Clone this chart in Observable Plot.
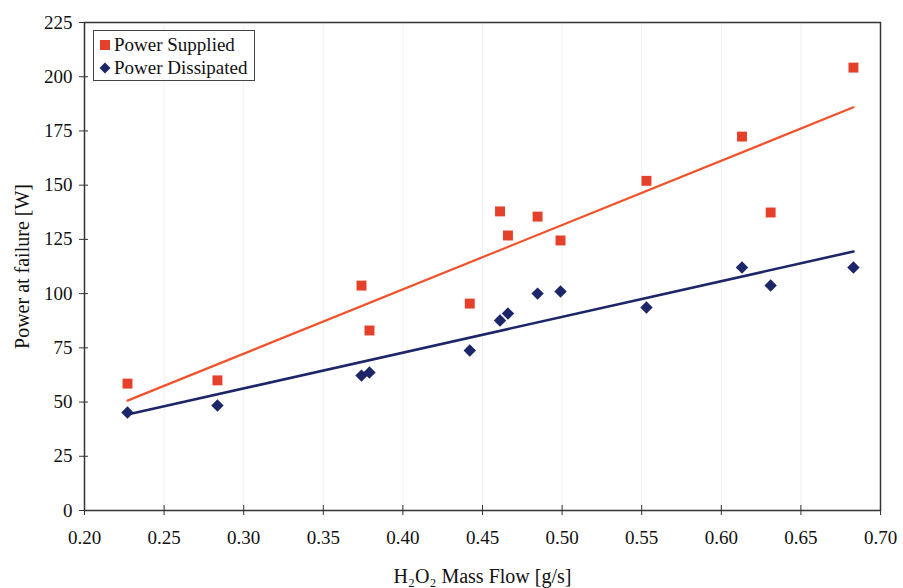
<!DOCTYPE html>
<html>
<head>
<meta charset="utf-8">
<script src="https://cdn.jsdelivr.net/npm/d3@7"></script>
<script src="https://cdn.jsdelivr.net/npm/@observablehq/plot@0.6"></script>
<style>
  html, body { margin: 0; padding: 0; background: #fff; }
  #wrap { position: relative; width: 903px; height: 588px; font-family: "Liberation Serif", serif; }
  #legend { position: absolute; left: 93px; top: 30px; width: 162px; height: 51px; border: 1.2px solid #444;
            background: #fff; font-size: 19px; color: #111; box-sizing: border-box; padding: 2px 0 0 5px; line-height: 23px; }
  #legend .row { display: flex; align-items: center; white-space: nowrap; }
  #legend svg { margin-right: 3px; }
  #chart svg g[aria-label="x-axis label"] text, #chart svg g[aria-label="y-axis label"] text { font-size: 20px; }
</style>
</head>
<body>
<div id="wrap">
  <div id="chart"></div>
  <div id="legend"></div>
</div>
<script>
// H2O2 mass flow [g/s]
const massFlow = [0.227, 0.2835, 0.374, 0.379, 0.442, 0.461, 0.466, 0.4846, 0.499, 0.553, 0.613, 0.631, 0.683];
// Power supplied at failure [W]
const powerSupplied = [58.5, 60, 103.7, 83, 95.4, 137.9, 126.8, 135.5, 124.5, 152, 172.4, 137.4, 204.2];
// Power dissipated at failure [W]
const powerDissipated = [45.2, 48.4, 62.2, 63.6, 73.8, 87.6, 90.8, 100, 101, 93.6, 112, 103.7, 112];

const seriesNames = ["Power Supplied", "Power Dissipated"];
const xTicks = [0.20, 0.25, 0.30, 0.35, 0.40, 0.45, 0.50, 0.55, 0.60, 0.65, 0.70];
const yTicks = [0, 25, 50, 75, 100, 125, 150, 175, 200, 225];
const xLabel = "H₂O₂ Mass Flow [g/s]";
const yLabel = "Power at failure [W]";

const redPt = "#e5412a", redLine = "#f2522b", navy = "#1c2668";

const supplied = massFlow.map((x, i) => ({x, y: powerSupplied[i]}));
const dissipated = massFlow.map((x, i) => ({x, y: powerDissipated[i]}));

const chart = Plot.plot({
  width: 903,
  height: 588,
  marginLeft: 84,
  marginRight: 23,
  marginTop: 22,
  marginBottom: 78,
  style: {fontFamily: "Liberation Serif, serif", fontSize: "19px", color: "#111", background: "#fff"},
  x: {domain: [0.2, 0.7]},
  y: {domain: [0, 225]},
  marks: [
    Plot.gridX(xTicks, {stroke: "#c9d0dc", strokeOpacity: 0.3}),
    Plot.frame({stroke: "#333", strokeWidth: 1.5}),
    Plot.axisX({ticks: xTicks, tickFormat: d3.format(".2f"), tickSize: 5, tickPadding: 15, stroke: "#333",
                label: xLabel, labelAnchor: "center", labelOffset: 72, labelArrow: "none", fontSize: 19}),
    Plot.ruleX(xTicks, {x: d => d, y1: 0, y2: 0, insetTop: -5, insetBottom: 0, stroke: "#333"}),
    Plot.axisY({ticks: yTicks, tickSize: 5, tickPadding: 7, stroke: "#333",
                label: yLabel, labelAnchor: "center", labelOffset: 70, labelArrow: "none", fontSize: 19}),
    Plot.ruleY(yTicks, {y: d => d, x1: 0.2, x2: 0.2, insetLeft: 0, insetRight: -4, stroke: "#333"}),
    Plot.linearRegressionY(supplied, {x: "x", y: "y", ci: 0, stroke: redLine, strokeWidth: 2.2}),
    Plot.linearRegressionY(dissipated, {x: "x", y: "y", ci: 0, stroke: navy, strokeWidth: 2.6}),
    Plot.dot(supplied, {x: "x", y: "y", symbol: "square", r: 5.6, fill: redPt, stroke: "none"}),
    Plot.dot(dissipated, {x: "x", y: "y", symbol: "diamond2", r: 5.6, fill: navy, stroke: "none"})
  ]
});
document.getElementById("chart").append(chart);

const legend = document.getElementById("legend");
legend.innerHTML =
  `<div class="row"><svg width="12" height="12"><rect x="1" y="1" width="10" height="10" fill="${redPt}"/></svg><span>${seriesNames[0]}</span></div>` +
  `<div class="row"><svg width="12" height="12"><path d="M6,0.5 L11.5,6 L6,11.5 L0.5,6Z" fill="${navy}"/></svg><span>${seriesNames[1]}</span></div>`;
</script>
</body>
</html>
